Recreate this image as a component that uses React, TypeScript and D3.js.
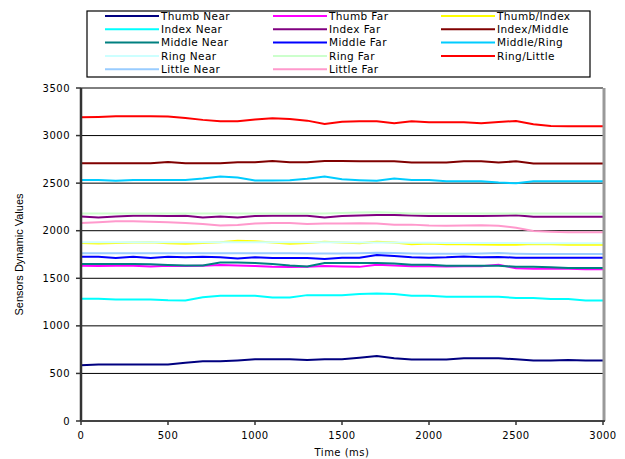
import * as d3 from "d3"

// sample times (ms)
const times = [0, 100, 200, 300, 400, 500, 600, 700, 800, 900, 1000, 1100, 1200, 1300, 1400, 1500,
  1600, 1700, 1800, 1900, 2000, 2100, 2200, 2300, 2400, 2500, 2600, 2700, 2800, 2900, 3000]

const thumbNear = [585, 595, 595, 595, 595, 595, 613, 627, 627, 637, 648, 648, 648, 640, 648, 648,
  665, 683, 660, 646, 646, 646, 660, 660, 660, 648, 635, 635, 640, 635, 635]
const thumbFar = [1632, 1628, 1632, 1632, 1625, 1632, 1628, 1632, 1640, 1635, 1630, 1620, 1618, 1622, 1630, 1625,
  1620, 1643, 1635, 1627, 1627, 1625, 1627, 1627, 1643, 1605, 1600, 1600, 1600, 1596, 1596]
const thumbIndex = [1870, 1865, 1872, 1875, 1880, 1868, 1862, 1872, 1880, 1895, 1890, 1875, 1862, 1872, 1885, 1875,
  1868, 1885, 1875, 1858, 1865, 1858, 1858, 1856, 1852, 1852, 1860, 1858, 1852, 1852, 1852]
const indexNear = [1285, 1285, 1278, 1278, 1278, 1270, 1267, 1300, 1317, 1317, 1317, 1299, 1299, 1323, 1323, 1323,
  1334, 1340, 1334, 1317, 1317, 1306, 1306, 1306, 1306, 1292, 1292, 1281, 1281, 1267, 1267]
const indexFar = [2150, 2140, 2150, 2158, 2158, 2155, 2158, 2138, 2150, 2140, 2155, 2158, 2158, 2158, 2140, 2155,
  2160, 2165, 2165, 2160, 2155, 2155, 2155, 2155, 2158, 2162, 2147, 2147, 2147, 2147, 2147]
const indexMiddle = [2709, 2709, 2709, 2709, 2709, 2723, 2709, 2709, 2709, 2720, 2720, 2734, 2720, 2720, 2734, 2734,
  2730, 2730, 2730, 2716, 2716, 2716, 2730, 2730, 2716, 2730, 2706, 2706, 2706, 2706, 2706]
const middleNear = [1650, 1650, 1650, 1650, 1648, 1640, 1635, 1635, 1667, 1665, 1660, 1650, 1635, 1625, 1660, 1660,
  1660, 1660, 1655, 1643, 1643, 1632, 1632, 1632, 1632, 1620, 1620, 1615, 1607, 1607, 1607]
const middleFar = [1726, 1726, 1713, 1726, 1713, 1726, 1720, 1726, 1720, 1709, 1720, 1713, 1713, 1713, 1702, 1717,
  1717, 1744, 1735, 1720, 1715, 1720, 1730, 1720, 1725, 1717, 1717, 1717, 1717, 1717, 1717]
const middleRing = [2534, 2534, 2526, 2534, 2534, 2534, 2534, 2548, 2570, 2560, 2527, 2527, 2530, 2545, 2569, 2540,
  2530, 2524, 2548, 2534, 2534, 2520, 2520, 2520, 2506, 2500, 2520, 2520, 2520, 2520, 2520]
const ringNear = [1878, 1878, 1878, 1878, 1878, 1878, 1878, 1878, 1878, 1878, 1878, 1878, 1878, 1878, 1878, 1878,
  1876, 1876, 1876, 1874, 1874, 1872, 1872, 1872, 1870, 1870, 1868, 1868, 1868, 1868, 1868]
const ringFar = [2180, 2180, 2180, 2182, 2182, 2182, 2182, 2182, 2182, 2182, 2182, 2182, 2182, 2182, 2182, 2185,
  2192, 2195, 2188, 2182, 2182, 2182, 2182, 2182, 2182, 2182, 2180, 2180, 2180, 2180, 2180]
const ringLittle = [3192, 3195, 3202, 3202, 3202, 3200, 3185, 3165, 3150, 3150, 3170, 3181, 3175, 3157, 3122, 3145,
  3150, 3150, 3130, 3150, 3140, 3140, 3140, 3130, 3143, 3153, 3120, 3100, 3098, 3098, 3098]
const littleNear = [1762, 1762, 1762, 1764, 1764, 1762, 1762, 1764, 1764, 1762, 1762, 1762, 1762, 1760, 1760, 1760,
  1762, 1768, 1765, 1760, 1758, 1758, 1758, 1760, 1765, 1758, 1755, 1755, 1755, 1755, 1755]
const littleFar = [2080, 2090, 2100, 2100, 2095, 2090, 2080, 2070, 2055, 2060, 2075, 2080, 2080, 2070, 2075, 2075,
  2078, 2075, 2064, 2064, 2055, 2053, 2055, 2058, 2053, 2030, 1997, 1990, 1983, 1983, 1983]

const seriesNames = ["Thumb Near", "Thumb Far", "Thumb/Index", "Index Near", "Index Far", "Index/Middle",
  "Middle Near", "Middle Far", "Middle/Ring", "Ring Near", "Ring Far", "Ring/Little", "Little Near", "Little Far"]
const seriesValues = [thumbNear, thumbFar, thumbIndex, indexNear, indexFar, indexMiddle,
  middleNear, middleFar, middleRing, ringNear, ringFar, ringLittle, littleNear, littleFar]
const seriesColors = ["#000080", "#ff00ff", "#ffff00", "#00ffff", "#800080", "#800000",
  "#008080", "#0000ff", "#00ccff", "#ccffff", "#ccffcc", "#ff0000", "#99ccff", "#ff99cc"]

const yTicks = [0, 500, 1000, 1500, 2000, 2500, 3000, 3500]
const xTicks = [0, 500, 1000, 1500, 2000, 2500, 3000]

const font = "'DejaVu Sans', Verdana, sans-serif"

export default function App() {
  const width = 625
  const height = 459
  const margin = { top: 88, right: 22, bottom: 38, left: 81 }
  const plotW = width - margin.left - margin.right
  const plotH = height - margin.top - margin.bottom

  const x = d3.scaleLinear().domain([0, 3000]).range([margin.left, margin.left + plotW])
  const y = d3.scaleLinear().domain([0, 3500]).range([margin.top + plotH, margin.top])

  const line = d3
    .line<number>()
    .x((_, i) => x(times[i]))
    .y((d) => y(d))

  // legend layout
  const legend = { x: 87, y: 11, w: 503, h: 66, colW: 168, rowH: 13.3 }

  return (
    <svg width={width} height={height} style={{ position: "absolute", left: 0, top: 0 }}
      fontFamily={font}>
      <rect width={width} height={height} fill="#fff" />

      {/* gridlines */}
      {yTicks.slice(1).map((t) => (
        <line key={t} x1={x(0)} x2={x(3000)} y1={y(t)} y2={y(t)} stroke="#000" strokeWidth={1} />
      ))}

      {/* series */}
      {seriesValues.map((vals, i) => (
        <path key={seriesNames[i]} d={line(vals) || ""} fill="none" stroke={seriesColors[i]}
          strokeWidth={2} />
      ))}

      {/* right border */}
      <line x1={x(3000) + 1} x2={x(3000) + 1} y1={y(3500)} y2={y(0)} stroke="#999" strokeWidth={3} />

      {/* axes */}
      <line x1={x(0)} x2={x(0)} y1={y(3500)} y2={y(0)} stroke="#333" strokeWidth={2.5} />
      <line x1={x(0)} x2={x(3000) + 2} y1={y(0)} y2={y(0)} stroke="#444" strokeWidth={2} />

      {yTicks.map((t) => (
        <g key={t}>
          <line x1={x(0) - 5} x2={x(0)} y1={y(t)} y2={y(t)} stroke="#333" strokeWidth={1.5} />
          <text x={x(0) - 11} y={y(t)} dy="0.35em" textAnchor="end" fontSize={10}
            letterSpacing={0.5}>{t}</text>
        </g>
      ))}
      {xTicks.map((t) => (
        <g key={t}>
          <line x1={x(t)} x2={x(t)} y1={y(0)} y2={y(0) + 4} stroke="#333" strokeWidth={1.5} />
          <text x={x(t)} y={y(0) + 18} textAnchor="middle" fontSize={10} letterSpacing={0.5}>{t}</text>
        </g>
      ))}

      <text x={(x(0) + x(3000)) / 2} y={456} textAnchor="middle" fontSize={10}
        letterSpacing={0.5}>Time (ms)</text>
      <text transform={`translate(23, ${y(1750)}) rotate(-90)`} textAnchor="middle" fontSize={11}
        fontFamily="'Liberation Sans Narrow', 'Arial Narrow', 'Liberation Sans', sans-serif">
        Sensors Dynamic Values
      </text>

      {/* legend */}
      <rect x={legend.x} y={legend.y} width={legend.w} height={legend.h} fill="#fff" stroke="#000"
        strokeWidth={1.2} />
      {seriesNames.map((name, i) => {
        const col = i % 3
        const row = Math.floor(i / 3)
        const lx = legend.x + 18 + col * legend.colW
        const ly = legend.y + 5 + row * legend.rowH
        return (
          <g key={name}>
            <line x1={lx} x2={lx + 54} y1={ly} y2={ly} stroke={seriesColors[i]} strokeWidth={2} />
            <text x={lx + 56} y={ly} dy="0.35em" fontSize={10.5} letterSpacing={0.4}>{name}</text>
          </g>
        )
      })}
    </svg>
  )
}
